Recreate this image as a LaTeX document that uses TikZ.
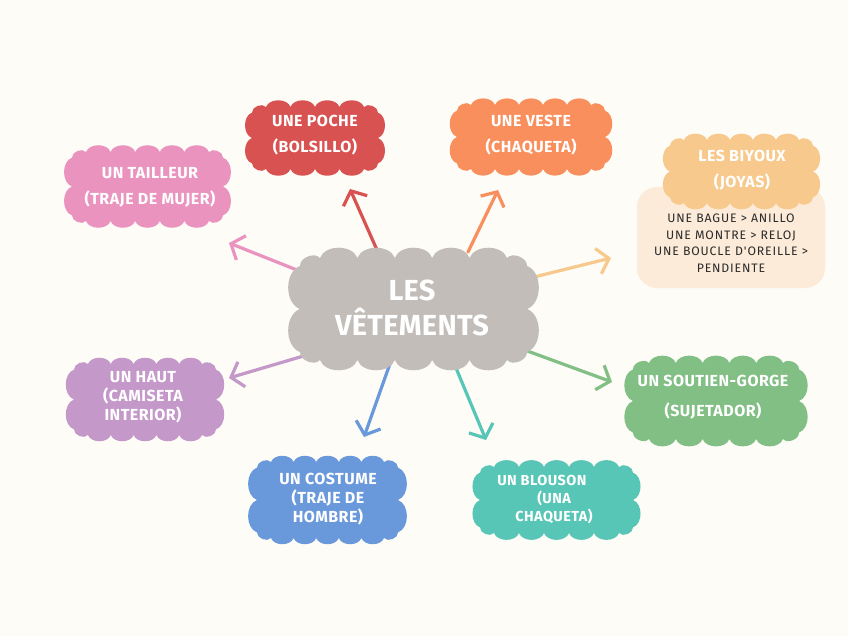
\documentclass[tikz,border=0pt]{standalone}
\usepackage{fontspec}
\usetikzlibrary{arrows.meta}
\newfontfamily\headfont[LetterSpace=3]{Fira Sans}
\newfontfamily\bigfont[LetterSpace=1]{Fira Sans}
\newfontfamily\smallfont[LetterSpace=7]{Fira Sans}
\definecolor{bgc}{HTML}{FDFCF7}
\definecolor{cgray}{HTML}{C2BDB9}
\definecolor{cred}{HTML}{D95252}
\definecolor{corange}{HTML}{F98F5D}
\definecolor{cpink}{HTML}{E993BE}
\definecolor{clorange}{HTML}{F8C98C}
\definecolor{cbeige}{HTML}{FCEBD8}
\definecolor{cpurple}{HTML}{C498C9}
\definecolor{cblue}{HTML}{6A99DB}
\definecolor{cteal}{HTML}{57C6B6}
\definecolor{cgreen}{HTML}{81BF85}
\definecolor{cdark}{HTML}{2B2B2B}
% scalloped cloud: x1 y1 x2 y2 nx ny d colour
\newcommand\cloudy[8]{%
  \pgfmathsetmacro\cax{3*#7}%
  \pgfmathsetmacro\cay{1.8*#7}%
  \fill[#8] ({#1+\cax},{#2+#7})
    \foreach \k in {1,...,#5}{ to[bend left=70] ({#1+\cax+\k*(#3-#1-2*\cax)/#5},{#2+#7}) }
    to[bend left=70] ({#3-#7},{#2+\cay})
    \foreach \k in {1,...,#6}{ to[bend left=70] ({#3-#7},{#2+\cay+\k*(#4-#2-2*\cay)/#6}) }
    to[bend left=70] ({#3-\cax},{#4-#7})
    \foreach \k in {1,...,#5}{ to[bend left=70] ({#3-\cax-\k*(#3-#1-2*\cax)/#5},{#4-#7}) }
    to[bend left=70] ({#1+#7},{#4-\cay})
    \foreach \k in {1,...,#6}{ to[bend left=70] ({#1+#7},{#4-\cay-\k*(#4-#2-2*\cay)/#6}) }
    to[bend left=70] ({#1+\cax},{#2+#7}) -- cycle;
}
\tikzset{
  hd/.style={text=white, font=\headfont\bfseries\fontsize{16}{26}\selectfont, align=center, inner sep=0pt},
  hdt/.style={text=white, font=\headfont\bfseries\fontsize{16}{19}\selectfont, align=center, inner sep=0pt},
  arr/.style={line width=3.2pt, line cap=round, -{Straight Barb[length=11pt,width=26pt]}},
}
\begin{document}
\begin{tikzpicture}[x=1pt,y=-1pt]
\useasboundingbox (0,0) rectangle (848,636);
\fill[bgc] (0,0) rectangle (848,636);
% connectors
\coordinate (s1) at (377,250); \coordinate (e1) at (350,189);
\coordinate (s2) at (468,252); \coordinate (e2) at (498,190);
\coordinate (s3) at (307,274); \coordinate (e3) at (229,243);
\coordinate (s4) at (526,279); \coordinate (e4) at (611,258);
\coordinate (s5) at (317,352); \coordinate (e5) at (229,378);
\coordinate (s6) at (392,358); \coordinate (e6) at (364,437);
\coordinate (s7) at (456,368); \coordinate (e7) at (486,440);
\coordinate (s8) at (511,345); \coordinate (e8) at (612,382);
\draw[arr, cred] (s1) -- (e1);
\draw[arr, corange] (s2) -- (e2);
\draw[arr, cpink] (s3) -- (e3);
\draw[arr, clorange] (s4) -- (e4);
\draw[arr, cpurple] (s5) -- (e5);
\draw[arr, cblue] (s6) -- (e6);
\draw[arr, cteal] (s7) -- (e7);
\draw[arr, cgreen] (s8) -- (e8);
% clouds
\cloudy{290}{248}{537}{370}{5}{2}{10}{cgray}
\cloudy{245}{100}{385}{176}{4}{2}{7}{cred}
\cloudy{450}{98}{612}{176}{5}{2}{7}{corange}
\cloudy{65}{145}{230}{228}{5}{2}{7}{cpink}
\fill[cbeige, rounded corners=20pt] (637,187) rectangle (825,288);
\cloudy{663}{133}{820}{210}{5}{2}{7}{clorange}
\cloudy{67}{357}{223}{442}{5}{2}{7}{cpurple}
\cloudy{250}{455}{405}{545}{5}{2}{7}{cblue}
\cloudy{473}{460}{640}{540}{5}{2}{7}{cteal}
\cloudy{625}{355}{807}{447}{5}{2}{8}{cgreen}
% texts
\node[text=white, font=\bigfont\bfseries\fontsize{29}{35}\selectfont, align=center, inner sep=0pt] (center) at (412,308) {LES\\VÊTEMENTS};
\node[hd] (poche) at (315,135) {UNE POCHE\\(BOLSILLO)};
\node[hd] (veste) at (531,135) {UNE VESTE\\(CHAQUETA)};
\node[hd] (tailleur) at (150,187) {UN TAILLEUR\\(TRAJE DE MUJER)};
\node[hd] (biyoux) at (742,170) {LES BIYOUX\\(JOYAS)};
\node[text=cdark, font=\smallfont\fontsize{12.3}{16.5}\selectfont, align=center, inner sep=0pt] (bijlist) at (731,243) {UNE BAGUE > ANILLO\\UNE MONTRE > RELOJ\\UNE BOUCLE D'OREILLE >\\PENDIENTE};
\node[hdt] (haut) at (143,397) {UN HAUT\\(CAMISETA\\INTERIOR)};
\node[hdt] (costume) at (328,499) {UN COSTUME\\(TRAJE DE\\HOMBRE)};
\node[text=white, font=\headfont\bfseries\fontsize{14.5}{18}\selectfont, align=left, inner sep=0pt] (blouson) at (545,500) {UN BLOUSON\\\hspace*{40pt}(UNA\\\hspace*{18pt}CHAQUETA)};
\node[text=white, font=\headfont\bfseries\fontsize{16}{30}\selectfont, align=center, inner sep=0pt] (soutien) at (713,397) {UN SOUTIEN-GORGE\\(SUJETADOR)};
\end{tikzpicture}
\end{document}
